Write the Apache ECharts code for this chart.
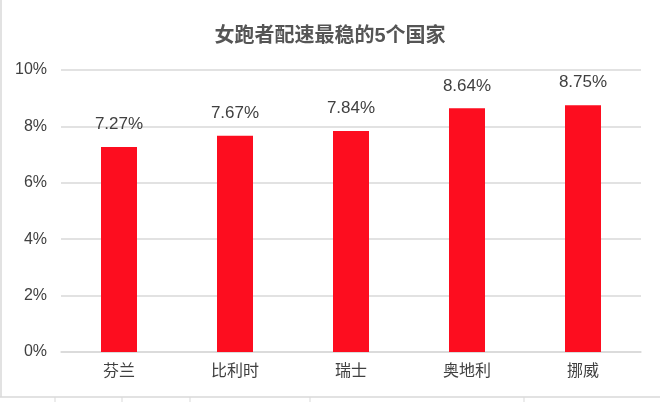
<!DOCTYPE html>
<html>
<head>
<meta charset="utf-8">
<script src="https://cdn.jsdelivr.net/npm/echarts@6/dist/echarts.min.js"></script>
<style>
  html, body { margin: 0; padding: 0; background: #fff; }
  #chart { width: 660px; height: 402px; }
</style>
</head>
<body>
<div id="chart"></div>
<script>
const countries = ["芬兰", "比利时", "瑞士", "奥地利", "挪威"];
const paceShare = [7.27, 7.67, 7.84, 8.64, 8.75];
const yTicks = [0, 2, 4, 6, 8, 10];

const font = "'Liberation Sans', 'Noto Sans CJK SC', sans-serif";
const textColor = "#404040";
const lineColor = "#d9d9d9";

const chart = echarts.init(document.querySelector("#chart"));

// sheet frame around the chart (cell borders)
const frame = [
  { type: "line", shape: { x1: 1, y1: 0, x2: 1, y2: 397 }, style: { stroke: lineColor, lineWidth: 1.5 } },
  { type: "line", shape: { x1: 0, y1: 397, x2: 660, y2: 397 }, style: { stroke: lineColor, lineWidth: 1.5 } }
];
[55, 122, 190, 310, 524].forEach((x) => {
  frame.push({ type: "line", shape: { x1: x, y1: 397, x2: x, y2: 402 }, style: { stroke: lineColor, lineWidth: 1 } });
});

chart.setOption({
  animation: false,
  textStyle: { fontFamily: font },
  title: {
    text: "女跑者配速最稳的5个国家",
    left: "center",
    top: 21,
    textStyle: { fontFamily: font, fontSize: 20, fontWeight: "bold", color: "#555" }
  },
  grid: { left: 61, right: 19, top: 70, bottom: 50 },
  xAxis: {
    type: "category",
    data: countries,
    axisLine: { lineStyle: { color: lineColor, width: 1.5 } },
    axisTick: { show: false },
    axisLabel: { color: textColor, fontSize: 16, margin: 12, fontFamily: font }
  },
  yAxis: {
    type: "value",
    min: yTicks[0],
    max: yTicks[yTicks.length - 1],
    interval: 2,
    axisLine: { show: false },
    axisTick: { show: false },
    axisLabel: { color: textColor, fontSize: 16, margin: 14, fontFamily: font, formatter: "{value}%" },
    splitLine: { lineStyle: { color: lineColor, width: 1.5 } }
  },
  series: [{
    type: "bar",
    data: paceShare,
    barWidth: 36,
    itemStyle: { color: "#fd0d1f" },
    label: {
      show: true,
      position: "top",
      distance: 14,
      color: textColor,
      fontSize: 17,
      fontFamily: font,
      formatter: (p) => p.value.toFixed(2) + "%"
    }
  }],
  graphic: frame
});
</script>
</body>
</html>
